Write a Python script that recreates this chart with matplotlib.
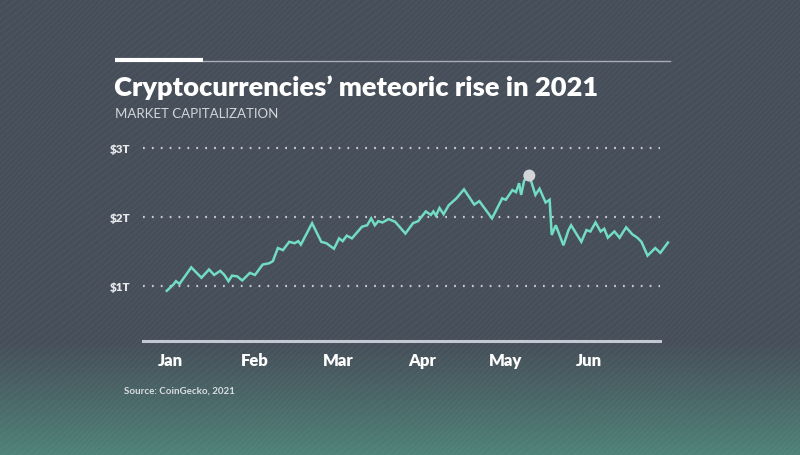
import numpy as np
import matplotlib
matplotlib.use("Agg")
import matplotlib.pyplot as plt

# ---- data ----
month_pos = [-0.049, 0.030, 0.061, 0.104, 0.244, 0.366, 0.457, 0.518, 0.591, 0.640,
             0.689, 0.732, 0.793, 0.854, 0.945, 1.006, 1.098, 1.177, 1.220, 1.280,
             1.341, 1.415, 1.482, 1.524, 1.555, 1.689, 1.799, 1.860, 1.951, 2.012,
             2.055, 2.104, 2.165, 2.287, 2.348, 2.396, 2.439, 2.482, 2.530, 2.604,
             2.683, 2.805, 2.896, 2.957, 3.049, 3.110, 3.140, 3.171, 3.213, 3.262,
             3.323, 3.415, 3.506, 3.628, 3.689, 3.841, 3.963, 4.006, 4.085, 4.128,
             4.165, 4.189, 4.226, 4.287, 4.329, 4.360, 4.409, 4.482, 4.530, 4.555,
             4.604, 4.695, 4.756, 4.787, 4.909, 4.970, 5.018, 5.079, 5.140, 5.183,
             5.226, 5.305, 5.366, 5.445, 5.518, 5.579, 5.628, 5.701, 5.793, 5.854,
             5.945]
market_cap_t = [0.93, 1.02, 1.07, 1.03, 1.27, 1.12, 1.24, 1.16, 1.22, 1.16,
                1.07, 1.15, 1.14, 1.08, 1.19, 1.16, 1.31, 1.33, 1.36, 1.55,
                1.52, 1.64, 1.62, 1.65, 1.60, 1.91, 1.64, 1.62, 1.54, 1.69,
                1.65, 1.73, 1.69, 1.86, 1.88, 1.98, 1.88, 1.94, 1.92, 1.97,
                1.93, 1.76, 1.91, 1.94, 2.08, 2.03, 2.08, 2.02, 2.13, 2.04,
                2.17, 2.27, 2.40, 2.18, 2.23, 1.98, 2.27, 2.25, 2.39, 2.36,
                2.49, 2.32, 2.53, 2.60, 2.44, 2.32, 2.41, 2.21, 2.25, 1.74,
                1.88, 1.59, 1.81, 1.88, 1.64, 1.81, 1.79, 1.92, 1.79, 1.83,
                1.70, 1.79, 1.70, 1.85, 1.75, 1.70, 1.64, 1.44, 1.55, 1.48,
                1.63]
month_labels = ["Jan", "Feb", "Mar", "Apr", "May", "Jun"]
y_ticks = [1, 2, 3]
y_tick_labels = ["$1T", "$2T", "$3T"]
title = "Cryptocurrencies\u2019 meteoric rise in 2021"
subtitle = "MARKET CAPITALIZATION"
source = "Source: CoinGecko, 2021"

FONT = ["Lato", "DejaVu Sans"]
plt.rcParams["font.family"] = FONT

W, H = 800, 456
fig = plt.figure(figsize=(W / 100, H / 100), dpi=100)

# ---- background ----
bg = fig.add_axes([0, 0, 1, 1], zorder=-10)
bg.set_xlim(0, W)
bg.set_ylim(H, 0)
bg.axis("off")
top = np.array([0x46, 0x4e, 0x59]) / 255
bot = np.array([0x4f, 0x82, 0x78]) / 255
yy = np.linspace(0, 1, H)
t = np.clip((yy * H - 340) / (H - 340), 0, 1) ** 1.1
grad = top[None, :] * (1 - t[:, None]) + bot[None, :] * t[:, None]
img = np.repeat(grad[:, None, :], 4, axis=1)
bg.imshow(img, extent=[0, W, H, 0], aspect="auto", zorder=0)
xs = np.linspace(0, W, 400)
for c in np.arange(0, 1400, 6):
    ys = c - 0.9 * xs + 7 * np.sin(xs / 45 + c / 70)
    bg.plot(xs, ys, color="white", alpha=0.05, lw=0.6, zorder=1)

# header rules and texts
bg.plot([115, 203], [61, 61], color="white", lw=3, solid_capstyle="butt", zorder=3)
bg.plot([203, 670], [62, 62], color="#a9aeb6", lw=1, zorder=3)
bg.text(114, 96, title, color="white", fontsize=19.6, fontweight="heavy",
        va="baseline", ha="left", zorder=4)
bg.text(115, 114, subtitle, color="#d3d6db", fontsize=9.5, va="center",
        ha="left", zorder=4)
bg.text(124, 391, source, color="#dadde1", fontsize=7, fontweight="bold",
        va="center", ha="left", zorder=4)

# ---- chart ----
ax = fig.add_axes([143 / W, 1 - 342 / H, (660 - 143) / W, (342 - 140) / H])
ax.set_facecolor("none")
ax.set_xlim(-0.333, 5.85)
ax.set_ylim(0.203, 3.13)
for s in ["top", "right", "left"]:
    ax.spines[s].set_visible(False)
ax.spines["bottom"].set_color("#c3c9d3")
ax.spines["bottom"].set_linewidth(2.2)

for v in y_ticks:
    ax.axhline(v, color="#c9cdd3", lw=1.6, ls=(0, (0.8, 3.2)), zorder=1)

ax.plot(month_pos, market_cap_t, color="#72dcc4", lw=1.8, zorder=3,
        clip_on=False, solid_joinstyle="miter")
i_max = int(np.argmax(market_cap_t))
ax.scatter([month_pos[i_max]], [market_cap_t[i_max]], s=75, color="#d2d4d8",
           zorder=4, clip_on=False, edgecolors="none")

ax.set_yticks(y_ticks)
ax.set_yticklabels(y_tick_labels, fontsize=8.5, fontweight="heavy", color="#e6e8eb")
ax.set_xticks(range(len(month_labels)))
ax.set_xticklabels(month_labels, fontsize=12, fontweight="heavy", color="white")
ax.tick_params(axis="both", length=0)
ax.tick_params(axis="x", pad=8)
ax.tick_params(axis="y", pad=9)

fig.savefig("out.png", dpi=100)
